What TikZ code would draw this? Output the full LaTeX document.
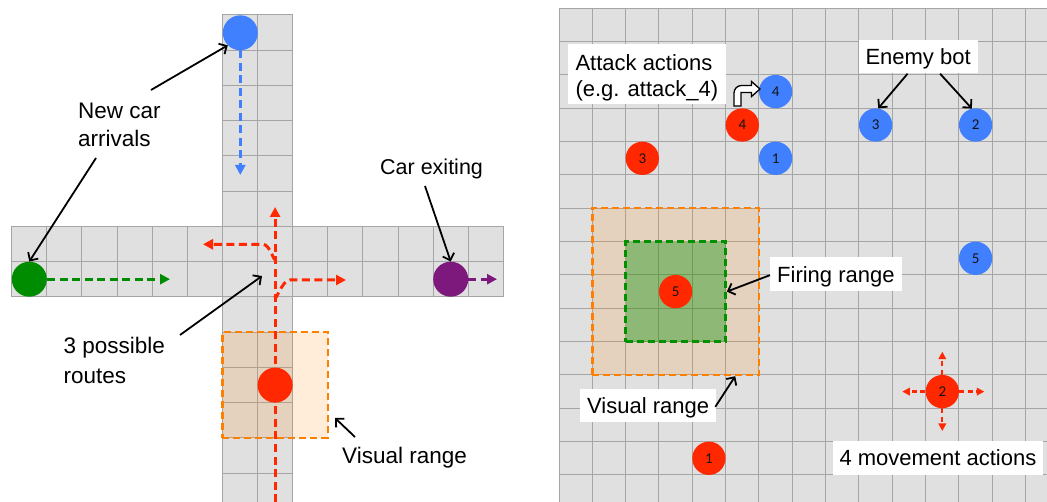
\documentclass[tikz,border=0pt]{standalone}
\usepackage{fontspec}
\setmainfont{Liberation Sans}
\newfontfamily\numfont{Carlito}
\usetikzlibrary{arrows.meta,calc}

\definecolor{roadgray}{RGB}{224,224,224}
\definecolor{gridline}{RGB}{165,165,165}
\definecolor{carblue}{RGB}{64,128,255}
\definecolor{carred}{RGB}{255,40,0}
\definecolor{cargreen}{RGB}{0,140,0}
\definecolor{carpurple}{RGB}{125,25,125}
\definecolor{rangeorange}{RGB}{255,128,0}
\definecolor{rangegreen}{RGB}{0,145,0}
\definecolor{numcolor}{RGB}{20,20,20}

\tikzset{
  gridl/.style={draw=gridline, line width=1},
  car/.style={circle, minimum size=35, inner sep=0, draw=none},
  bot/.style={circle, minimum size=33.3, inner sep=0, draw=none,
              text=numcolor, font=\numfont\fontsize{15}{15}\selectfont},
  lbl/.style={inner sep=0, font=\fontsize{22.5}{30}\selectfont},
  tag/.style={fill=white, inner xsep=7, inner ysep=0, text height=24.6, text depth=8.7,
              font=\fontsize{22}{26.7}\selectfont},
  callout/.style={draw=black, line width=1.8, -{Straight Barb[length=6,width=12]}},
  route/.style={line width=3, dash pattern=on 8 off 4.5, -{Triangle[length=10,width=10]}},
  move/.style={draw=carred, line width=2.2, dash pattern=on 5 off 3.5, -{Triangle[length=7.5,width=7.5]}},
  visbox/.style={rectangle, inner sep=0, fill=rangeorange, fill opacity=0.15,
                 draw=rangeorange, line width=2.5, dash pattern=on 7 off 4},
  firebox/.style={rectangle, inner sep=0, fill=rangegreen, fill opacity=0.38,
                  draw=rangegreen, line width=2.5, dash pattern=on 7 off 4},
}

\begin{document}
\begin{tikzpicture}[x=1pt, y=-1pt]
\useasboundingbox (0,0) rectangle (1047,502);

% ---------------- left: crossroad ----------------
\fill[roadgray] (11.7,226.5) rectangle (503.4,297);
\fill[roadgray] (222.4,15) rectangle (292.6,502);
\foreach \k in {0,...,14} \draw[gridl] ({11.7+\k*35.12},226.5) -- ({11.7+\k*35.12},297);
\foreach \y in {226.5,261.75,297} \draw[gridl] (11.7,\y) -- (503.4,\y);
\foreach \x in {222.4,257.5,292.6} \draw[gridl] (\x,15) -- (\x,502);
\foreach \k in {0,...,13} \draw[gridl] (222.4,{15+\k*35.25}) -- (292.6,{15+\k*35.25});

% visual range of the red car
\node[visbox, minimum width=105.4, minimum height=105.75] (lvisbox) at (275.1,385.1) {};

% cars
\node[car, fill=carblue] (bcar) at (240.3,32.8) {};
\node[car, fill=cargreen] (gcar) at (29.3,279.2) {};
\node[car, fill=carpurple] (pcar) at (450.7,279.2) {};

% route end points
\coordinate (bend) at (240.3,175);
\coordinate (gend) at (170,279.2);
\coordinate (pend) at (497,279.2);
\coordinate (rbottom) at (275.1,502);
\coordinate (rstraight) at (275.1,207);
\coordinate (rleftfrom) at (275.1,258);
\coordinate (rleft) at (203,244.3);
\coordinate (rrightfrom) at (275.1,296);
\coordinate (rright) at (346,280);

\draw[route, draw=carblue, -{Triangle[length=10,width=10,fill=carblue]}] (bcar.south) -- (bend);
\draw[route, draw=cargreen, -{Triangle[length=10,width=10,fill=cargreen]}] (gcar.east) -- (gend);
\draw[route, draw=carpurple, -{Triangle[length=10,width=10,fill=carpurple]}] (pcar.east) -- (pend);

\draw[route, draw=carred] (rbottom) -- (rstraight);
\draw[route, draw=carred] (rleftfrom) to[out=-90,in=0] (263,244.3) -- (rleft);
\draw[route, draw=carred] (rrightfrom) to[out=-90,in=180] (290,280) -- (rright);

\node[car, fill=carred] (rcar) at (275.1,385.1) {};

% labels
\node[lbl, anchor=base west, font=\fontsize{22.5}{28}\selectfont] (newcar) at (78,118.3)
  {\begin{tabular}[t]{@{}l@{}}New car\\arrivals\end{tabular}};
\node[lbl, anchor=base west] (routes) at (63.5,353.3)
  {\begin{tabular}[t]{@{}l@{}}3 possible\\routes\end{tabular}};
\node[lbl, anchor=base west, font=\fontsize{21.5}{28}\selectfont] (exiting) at (380,175) {Car exiting};
\node[lbl, anchor=base west] (lvis) at (342,463) {Visual range};

\coordinate (nc-top) at (151,90);
\coordinate (nc-bot) at (96,158);
\coordinate (ex-from) at (425,186);
\coordinate (rt-from) at (180,335);
\coordinate (rt-to) at (262,276);
\coordinate (lv-from) at (355,437);
\coordinate (lv-to) at (335,418);

\draw[callout] (nc-top) -- (bcar.225);
\draw[callout] (nc-bot) -- (gcar.north);
\draw[callout] (ex-from) -- (pcar.north);
\draw[callout] (rt-from) -- (rt-to);
\draw[callout] (lv-from) -- (lv-to);

% ---------------- right: battle grid ----------------
\fill[roadgray] (559,8.3) rectangle (1047,502);
\foreach \k in {0,...,14} \draw[gridl] ({559+\k*33.33},8.3) -- ({559+\k*33.33},502);
\foreach \k in {0,...,14} \draw[gridl] (559,{8.3+\k*33.33}) -- (1047,{8.3+\k*33.33});

\node[visbox, minimum size=166.7] (rvisbox) at (675.6,291.6) {};
\node[firebox, minimum size=100] (rfirebox) at (675.6,291.6) {};

% own bots (red) and enemy bots (blue)
\node[bot, fill=carred] (r1) at (708.9,458.3) {1};
\node[bot, fill=carred] (r2) at (942.3,391.6) {2};
\node[bot, fill=carred] (r3) at (642.3,158.3) {3};
\node[bot, fill=carred] (r4) at (742.3,125) {4};
\node[bot, fill=carred] (r5) at (675.6,291.6) {5};
\node[bot, fill=carblue] (b1) at (775.6,158.3) {1};
\node[bot, fill=carblue] (b2) at (975.6,125) {2};
\node[bot, fill=carblue] (b3) at (875.6,125) {3};
\node[bot, fill=carblue] (b4) at (775.6,91.6) {4};
\node[bot, fill=carblue] (b5) at (975.6,258.3) {5};

% movement actions of bot 2
\coordinate (mv-up) at (942.3,351.7);
\coordinate (mv-down) at (942.3,431);
\coordinate (mv-left) at (902.3,391.6);
\coordinate (mv-right) at (984.3,391.6);
\draw[move] (r2.north) -- (mv-up);
\draw[move] (r2.south) -- (mv-down);
\draw[move] (r2.west) -- (mv-left);
\draw[move] (r2.east) -- (mv-right);

% attack action: bent arrow from bot 4 to enemy 4
\filldraw[fill=white, draw=black, line width=1.3, line join=miter]
  (734,106) -- (734,93) .. controls (734,88.9) and (737.4,85.5) .. (741.5,85.5)
  -- (751.5,85.5) -- (751.5,81.5) -- (760,89) -- (751.5,96.5) -- (751.5,92.5)
  -- (741,92.5) -- (741,106) -- cycle;

% tags
\node[tag, anchor=north west, minimum width=158.7, text height=25.7, text depth=34.3]
  (attack) at (567.3,44.3)
  {\begin{tabular}[t]{@{}l@{}}Attack actions\\(e.g. attack\_4)\end{tabular}};
\node[tag, anchor=north west] (enemy) at (858.3,40) {Enemy bot};
\node[tag, anchor=north west] (firing) at (770,257.3) {Firing range};
\node[tag, anchor=north west] (rvis) at (580,389) {Visual range};
\node[tag, anchor=north west] (movement) at (832.3,441) {4 movement actions};

\draw[callout] ($(enemy.south)+(-10.5,0)$) -- (b3.81);
\draw[callout] ($(enemy.south)+(22,0)$) -- (b2.103);
\draw[callout] ($(firing.west)+(0,1)$) -- (rfirebox.east);
\draw[callout] ($(rvis.east)+(-1,1)$) -- ($(rvisbox.south east)+(-25,0)$);

\end{tikzpicture}
\end{document}
